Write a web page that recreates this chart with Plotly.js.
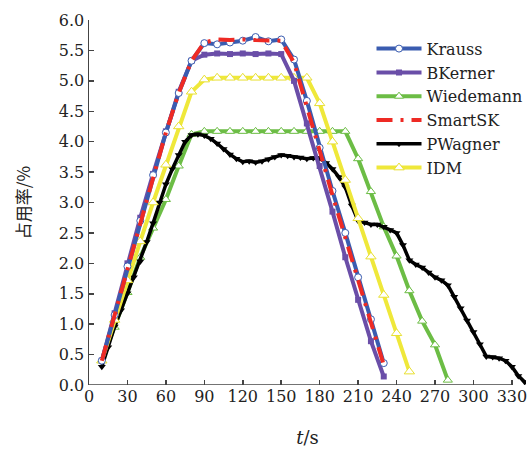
<!DOCTYPE html>
<html>
<head>
<meta charset="utf-8">
<script src="https://cdn.plot.ly/plotly-3.0.1.min.js"></script>
<style>
  html, body { margin: 0; padding: 0; background: #fff; }
  #chart { width: 532px; height: 450px; }
</style>
</head>
<body>
<div id="chart"></div>
<script>
// time axis (s)
const t10 = [10,20,30,40,50,60,70,80,90,100,110,120,130,140,150,160,170,180,190,200,210,220,230];
const krauss = [0.4,1.15,1.95,2.7,3.45,4.15,4.8,5.33,5.62,5.6,5.63,5.66,5.72,5.65,5.68,5.35,4.67,3.9,3.19,2.5,1.77,1.08,0.36];
const bkerner = [0.4,1.18,2.0,2.75,3.47,4.17,4.82,5.33,5.43,5.45,5.44,5.45,5.44,5.45,5.44,5.0,4.3,3.6,2.85,2.1,1.4,0.72,0.14];
const smartsk = [0.4,1.15,1.95,2.7,3.45,4.15,4.8,5.33,5.63,5.68,5.67,5.68,5.67,5.67,5.66,5.3,4.6,3.85,3.12,2.42,1.72,1.02,0.33];

const tW = [10,20,30,40,50,60,70,80,90,100,110,120,130,140,150,160,170,180,190,200,210,220,230,240,250,260,270,280];
const wiedemann = [0.4,0.95,1.52,2.1,2.58,3.05,3.6,4.12,4.17,4.17,4.17,4.17,4.17,4.17,4.17,4.17,4.17,4.17,4.17,4.17,3.72,3.18,2.6,2.12,1.55,1.05,0.66,0.08];

const tI = [10,20,30,40,50,60,70,80,90,100,110,120,130,140,150,160,170,180,190,200,210,220,230,240,250];
const idm = [0.4,1.07,1.72,2.36,3.0,3.62,4.25,4.82,5.02,5.05,5.05,5.05,5.05,5.05,5.05,5.05,5.05,4.63,4.0,3.37,2.74,2.11,1.48,0.85,0.22];

const tP = [10,15,20,25,30,35,40,45,50,55,60,65,70,75,80,85,90,95,100,105,110,115,120,125,130,135,140,145,150,155,160,165,170,175,180,185,190,195,200,205,210,215,220,225,230,235,240,245,250,255,260,265,270,275,280,285,290,295,300,305,310,315,320,325,330,335,340];
const pwagner = [0.3,0.62,0.96,1.23,1.51,1.77,2.03,2.35,2.66,3.0,3.3,3.55,3.78,4.0,4.11,4.12,4.1,4.05,3.97,3.88,3.79,3.72,3.67,3.68,3.66,3.68,3.71,3.75,3.78,3.77,3.75,3.74,3.72,3.73,3.73,3.65,3.55,3.42,3.25,2.95,2.7,2.67,2.64,2.64,2.6,2.55,2.5,2.3,2.05,1.98,1.93,1.85,1.77,1.72,1.64,1.45,1.26,1.06,0.87,0.67,0.47,0.46,0.44,0.4,0.3,0.15,0.05];

const xTicks = [0,30,60,90,120,150,180,210,240,270,300,330];

const serif = 'DejaVu Serif';

const traces = [
  {x: tW, y: wiedemann, name: 'Wiedemann', legendrank: 3, mode: 'lines+markers',
   line: {color: '#6cbd45', width: 4},
   marker: {symbol: 'triangle-up', size: 8, color: '#ffffff', line: {color: '#6cbd45', width: 1}}},
  {x: tP, y: pwagner, name: 'PWagner', legendrank: 5, mode: 'lines+markers',
   line: {color: '#000000', width: 3.5},
   marker: {symbol: 'triangle-down', size: 7, color: '#000000'}},
  {x: tI, y: idm, name: 'IDM', legendrank: 6, mode: 'lines+markers',
   line: {color: '#efe83a', width: 4},
   marker: {symbol: 'triangle-up', size: 9, color: '#ffffff', line: {color: '#e8e030', width: 1}}},
  {x: t10, y: bkerner, name: 'BKerner', legendrank: 2, mode: 'lines+markers',
   line: {color: '#6a4ea8', width: 4},
   marker: {symbol: 'square', size: 6, color: '#6a4ea8'}},
  {x: t10, y: krauss, name: 'Krauss', legendrank: 1, mode: 'lines+markers',
   line: {color: '#3a5cb0', width: 4},
   marker: {symbol: 'circle', size: 7, color: '#ffffff', line: {color: '#3a5cb0', width: 1}}},
  {x: t10, y: smartsk, name: 'SmartSK', legendrank: 4, mode: 'lines',
   line: {color: '#ee2a24', width: 4, dash: '16px,8px,3px,8px'}}
];

const layout = {
  width: 532, height: 450,
  margin: {l: 89, r: 5, t: 20, b: 65},
  paper_bgcolor: '#ffffff', plot_bgcolor: '#ffffff',
  font: {family: serif, size: 16, color: '#222'},
  showlegend: true,
  legend: {
    x: 0.645, y: 0.968, xanchor: 'left', yanchor: 'top',
    bgcolor: 'rgba(255,255,255,0)', borderwidth: 0,
    font: {family: serif, size: 16, color: '#222'},
    itemwidth: 45, tracegroupgap: 0
  },
  xaxis: {
    range: [0, 341], tickvals: xTicks, ticktext: xTicks.map(String),
    ticks: 'inside', ticklen: 5, tickcolor: '#444', tickwidth: 1.5,
    showline: false, showgrid: false, zeroline: false, automargin: false,
    tickfont: {family: serif, size: 16, color: '#222'},
    title: {text: '<i>t</i>/s', font: {family: serif, size: 18, color: '#222'}, standoff: 26}
  },
  yaxis: {
    range: [0, 6], dtick: 0.5, tick0: 0, tickformat: '.1f',
    ticks: 'inside', ticklen: 5, tickcolor: '#444', tickwidth: 1.5,
    showline: true, linecolor: '#444', linewidth: 1.5, mirror: false,
    showgrid: false, zeroline: false, automargin: false,
    tickfont: {family: serif, size: 16, color: '#222'},
    title: {text: '占用率/%', font: {family: 'Noto Sans CJK SC', size: 17, color: '#222'}, standoff: 24}
  },
  shapes: [
    {type: 'line', xref: 'x', yref: 'y', x0: 0, x1: 330, y0: 0, y1: 0,
     line: {color: '#444', width: 1.5}, layer: 'below'}
  ]
};

Plotly.newPlot('chart', traces, layout, {displayModeBar: false, staticPlot: true});
</script>
</body>
</html>
